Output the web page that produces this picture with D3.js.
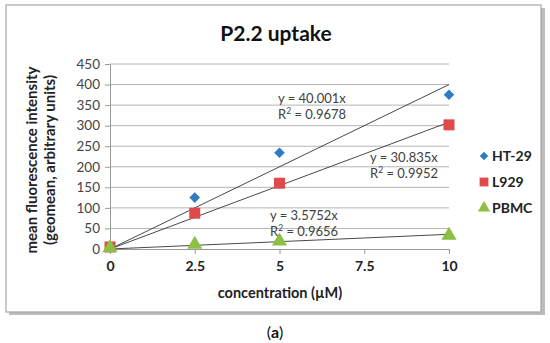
<!DOCTYPE html>
<html>
<head>
<meta charset="utf-8">
<script src="https://cdn.jsdelivr.net/npm/d3@7"></script>
<style>
  body { margin: 0; background: #fff; }
  svg text { font-family: Lato, "Open Sans", sans-serif; }
</style>
</head>
<body>
<div id="chart"></div>
<script>
const width = 550,
  height = 343,
  margin = { top: 64, bottom: 94, left: 110, right: 101 };

// DATA
const concentrations = [0, 2.5, 5, 10];
const ht29 = [4, 125, 234, 375];
const l929 = [5, 87, 160, 302];
const pbmc = [3, 11, 19, 33];
const slopes = [40.001, 30.835, 3.5752];
const r2 = ["0.9678", "0.9952", "0.9656"];
const seriesNames = ["HT-29", "L929", "PBMC"];
const seriesColors = ["#2f7cc4", "#e04a4a", "#8cbf44"];
const xTicks = [0, 2.5, 5, 7.5, 10];
const yTicks = [0, 50, 100, 150, 200, 250, 300, 350, 400, 450];

const series = [ht29, l929, pbmc].map((vals, i) => ({
  name: seriesNames[i],
  color: seriesColors[i],
  slope: slopes[i],
  r2: r2[i],
  points: vals.map((v, j) => ({ x: concentrations[j], y: v })),
}));

const svg = d3
  .select("#chart")
  .append("svg")
  .attr("width", width)
  .attr("height", height);

// frame with a little shadow on the right
svg.append("rect")
  .attr("x", 9).attr("y", 8)
  .attr("width", 536).attr("height", 307)
  .attr("fill", "#bdbdbd");
svg.append("rect")
  .attr("x", 6).attr("y", 5)
  .attr("width", 535).attr("height", 307)
  .attr("fill", "#fff")
  .attr("stroke", "#a6a6a6")
  .attr("stroke-width", 1.2);

// SCALES
const xScale = d3.scaleLinear()
  .domain([0, 10])
  .range([margin.left, width - margin.right]);

const yScale = d3.scaleLinear()
  .domain([0, 450])
  .range([height - margin.bottom, margin.top]);

// gridlines
svg.append("g")
  .selectAll("line")
  .data(yTicks.filter(d => d > 0))
  .join("line")
  .attr("x1", xScale(0))
  .attr("x2", xScale(10))
  .attr("y1", d => yScale(d))
  .attr("y2", d => yScale(d))
  .attr("stroke", "#b4b4b4")
  .attr("stroke-width", 1);

// AXES
const yAxis = d3.axisLeft(yScale)
  .tickValues(yTicks)
  .tickSize(5)
  .tickPadding(5);

const xAxis = d3.axisBottom(xScale)
  .tickValues(xTicks)
  .tickFormat(d => d)
  .tickSize(5)
  .tickPadding(7);

const gy = svg.append("g")
  .attr("transform", `translate(${margin.left},0)`)
  .call(yAxis);
gy.select(".domain").attr("stroke", "#9a9a9a");
gy.selectAll(".tick line").attr("stroke", "#9a9a9a");
gy.selectAll("text")
  .attr("fill", "#444")
  .attr("font-size", 13.5);

const gx = svg.append("g")
  .attr("transform", `translate(0,${height - margin.bottom})`)
  .call(xAxis);
gx.select(".domain").attr("stroke", "#9a9a9a");
gx.selectAll(".tick line").attr("stroke", "#9a9a9a");
gx.selectAll("text")
  .attr("fill", "#222")
  .attr("font-size", 14)
  .attr("font-weight", "bold");

// trend lines
svg.append("g")
  .selectAll("line")
  .data(series)
  .join("line")
  .attr("x1", xScale(0))
  .attr("y1", yScale(0))
  .attr("x2", xScale(10))
  .attr("y2", d => yScale(d.slope * 10))
  .attr("stroke", "#333")
  .attr("stroke-width", 0.9);

// markers
function drawMarker(g, i) {
  if (i === 0) {
    g.append("path")
      .attr("d", d3.symbol().type(d3.symbolSquare).size(56)())
      .attr("transform", "rotate(45)")
      .attr("fill", seriesColors[i]);
  } else if (i === 1) {
    g.append("path")
      .attr("d", d3.symbol().type(d3.symbolSquare).size(121)())
      .attr("fill", seriesColors[i]);
  } else {
    g.append("path")
      .attr("d", d3.symbol().type(d3.symbolTriangle).size(100)())
      .attr("fill", seriesColors[i]);
  }
}

series.forEach((s, i) => {
  svg.append("g")
    .selectAll("g")
    .data(s.points)
    .join("g")
    .attr("transform", d => `translate(${xScale(d.x)},${yScale(d.y)})`)
    .each(function() { drawMarker(d3.select(this), i); });
});

// equation labels
const eqPos = [
  { x: 278, y: 103 },
  { x: 370, y: 162 },
  { x: 270, y: 220 },
];
series.forEach((s, i) => {
  svg.append("text")
    .attr("x", eqPos[i].x)
    .attr("y", eqPos[i].y)
    .attr("font-size", 13)
    .attr("fill", "#404040")
    .text(`y = ${s.slope}x`);
  const t2 = svg.append("text")
    .attr("x", eqPos[i].x)
    .attr("y", eqPos[i].y + 16)
    .attr("font-size", 13)
    .attr("fill", "#404040");
  t2.append("tspan").text("R");
  t2.append("tspan").attr("font-size", 8.5).attr("dy", -5).text("2");
  t2.append("tspan").attr("dy", 5).text(` = ${s.r2}`);
});

// legend
const legend = svg.append("g")
  .selectAll("g")
  .data(series)
  .join("g")
  .attr("transform", (d, i) => `translate(484,${156 + i * 26})`);
legend.each(function(d, i) { drawMarker(d3.select(this), i); });
legend.select("path").attr("transform", (d, i) => i === 0 ? "rotate(45) scale(0.8)" : "scale(0.8)");
legend.append("text")
  .attr("x", 8)
  .attr("dy", "0.35em")
  .attr("font-size", 14)
  .attr("font-weight", "bold")
  .attr("fill", "#222")
  .text(d => d.name);

// title
svg.append("text")
  .attr("x", 276)
  .attr("y", 41)
  .attr("text-anchor", "middle")
  .attr("font-size", 21)
  .attr("font-weight", "bold")
  .attr("fill", "#111")
  .text("P2.2 uptake");

// axis titles
svg.append("text")
  .attr("x", 280)
  .attr("y", 298)
  .attr("text-anchor", "middle")
  .attr("font-size", 14.5)
  .attr("font-weight", "bold")
  .attr("fill", "#222")
  .text("concentration (\u00b5M)");

const yTitle = svg.append("text")
  .attr("transform", "translate(0,160) rotate(-90)")
  .attr("text-anchor", "middle")
  .attr("font-size", 15)
  .attr("font-weight", "bold")
  .attr("fill", "#222");
yTitle.append("tspan").attr("x", 0).attr("y", 37).text("mean fluorescence intensity");
yTitle.append("tspan").attr("x", 0).attr("y", 55).text("(geomean, arbitrary units)");

// panel label
svg.append("text")
  .attr("x", 275)
  .attr("y", 338)
  .attr("text-anchor", "middle")
  .attr("font-size", 16)
  .attr("fill", "#111")
  .text("(")
  .append("tspan").attr("font-weight", "bold").text("a")
  .append("tspan").attr("font-weight", "normal").text(")");
</script>
</body>
</html>
